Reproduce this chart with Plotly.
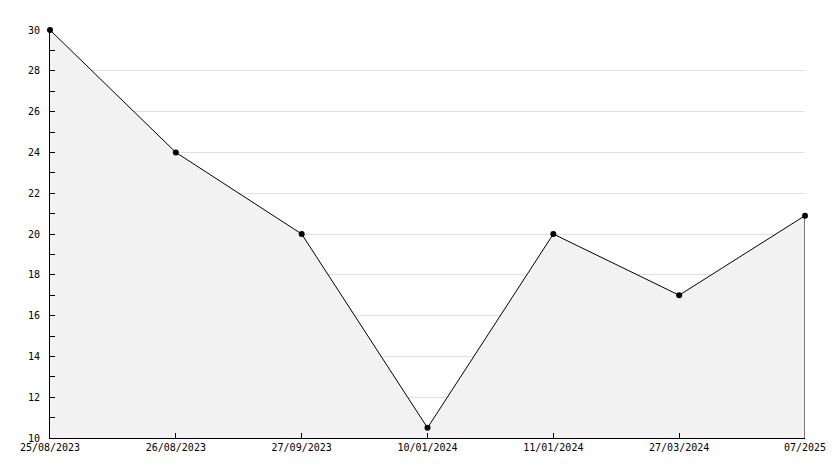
import plotly.graph_objects as go

dates = ["25/08/2023", "26/08/2023", "27/09/2023", "10/01/2024", "11/01/2024", "27/03/2024", "07/2025"]
values = [30, 24, 20, 10.5, 20, 17, 20.9]
y_ticks = [10, 12, 14, 16, 18, 20, 22, 24, 26, 28, 30]

x_idx = list(range(len(dates)))
y_min, y_max = 10, 30

fig = go.Figure()
fig.add_trace(go.Scatter(
    x=x_idx, y=values, mode="lines+markers",
    line=dict(color="black", width=1),
    marker=dict(color="black", size=6, symbol="circle"),
    fill="tozeroy", fillcolor="#f2f2f2", cliponaxis=False,
    hoverinfo="skip", showlegend=False,
))
# closing edge of the filled area at the last point
fig.add_trace(go.Scatter(
    x=[x_idx[-1], x_idx[-1]], y=[values[-1], y_min], mode="lines",
    line=dict(color="black", width=1), hoverinfo="skip", showlegend=False,
))

font = dict(family="DejaVu Sans Mono", size=10, color="black")
fig.update_layout(
    width=826, height=460,
    margin=dict(l=42, r=29, t=22, b=30),
    paper_bgcolor="white", plot_bgcolor="white",
    font=font,
    xaxis=dict(
        range=[x_idx[0], x_idx[-1]], tickmode="array", tickvals=x_idx, ticktext=dates,
        showgrid=False, zeroline=False, showline=True, linecolor="black", linewidth=1,
        ticks="inside", ticklen=5, tickcolor="black", tickfont=font, automargin=False,
    ),
    yaxis=dict(
        range=[y_min, y_max], tickmode="array", tickvals=y_ticks,
        showgrid=True, gridcolor="#e0e0e0", gridwidth=1,
        zeroline=False, showline=True, linecolor="black", linewidth=1,
        ticks="inside", ticklen=5, tickcolor="black", tickfont=font, automargin=False,
        ticklabelstandoff=7,
        minor=dict(dtick=1, ticks="inside", ticklen=5, tickcolor="black", showgrid=False),
    ),
)
fig.write_html("out.html")
